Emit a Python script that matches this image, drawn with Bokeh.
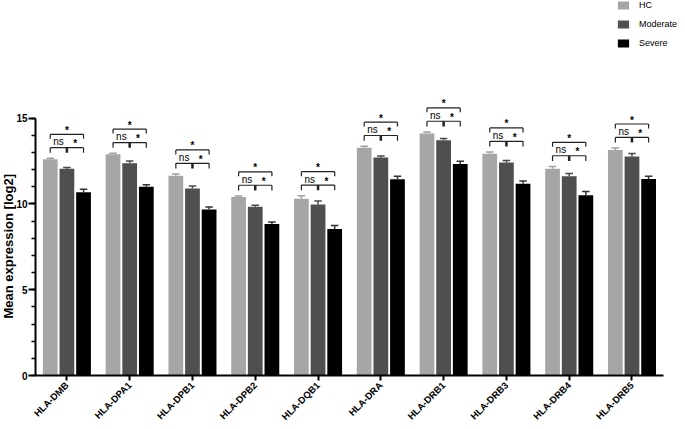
import math
from bokeh.plotting import figure
from bokeh.models import Range1d, FixedTicker, Title, Legend
from bokeh.core.properties import value
from bokeh.embed import file_html
from bokeh.resources import INLINE

genes = ["HLA-DMB", "HLA-DPA1", "HLA-DPB1", "HLA-DPB2", "HLA-DQB1",
         "HLA-DRA", "HLA-DRB1", "HLA-DRB3", "HLA-DRB4", "HLA-DRB5"]
groups = ["HC", "Moderate", "Severe"]
hc = [12.60, 12.90, 11.65, 10.41, 10.31, 13.27, 14.10, 12.93, 12.05, 13.14]
moderate = [12.05, 12.38, 10.90, 9.83, 9.97, 12.71, 13.72, 12.42, 11.61, 12.77]
severe = [10.68, 11.00, 9.68, 8.83, 8.54, 11.44, 12.33, 11.18, 10.51, 11.46]
hc_err = [0.06, 0.06, 0.10, 0.06, 0.17, 0.10, 0.10, 0.10, 0.14, 0.12]
moderate_err = [0.08, 0.12, 0.14, 0.10, 0.20, 0.09, 0.10, 0.12, 0.17, 0.17]
severe_err = [0.17, 0.12, 0.14, 0.12, 0.21, 0.17, 0.16, 0.16, 0.21, 0.16]
sig_hc_mod = ["ns"] * 10
sig_mod_sev = ["*"] * 10
sig_hc_sev = ["*"] * 10
y_ticks = [0, 5, 10, 15]

colors = ["#a6a6a6", "#4f4f4f", "#000000"]
err_colors = ["#a0a0a0", "#4a4a4a", "#333333"]
offsets = [-0.265, 0.0, 0.265]
FONT = "Liberation Sans"

p = figure(width=677, height=428, output_backend="svg", toolbar_location=None,
           x_range=Range1d(-0.5, 9.725), y_range=Range1d(0, 21.86),
           min_border_left=0, min_border_right=0, min_border_top=0,
           min_border_bottom=0)
p.outline_line_color = None
p.grid.visible = False
p.background_fill_color = "white"

idx = list(range(len(genes)))
vals = [hc, moderate, severe]
errs = [hc_err, moderate_err, severe_err]
items = []
for g, (name, v, e, off) in enumerate(zip(groups, vals, errs, offsets)):
    xs = [i + off for i in idx]
    r = p.vbar(x=xs, top=v, width=0.235, bottom=0, fill_color=colors[g],
               line_color=None)
    items.append((name, [r]))
    tops = [a + b for a, b in zip(v, e)]
    p.segment(x0=xs, y0=v, x1=xs, y1=tops, line_color=err_colors[g], line_width=1.5)
    p.segment(x0=[x - 0.06 for x in xs], y0=tops, x1=[x + 0.06 for x in xs],
              y1=tops, line_color=err_colors[g], line_width=1.5)

# significance brackets
maxtop = [max(hc[i] + hc_err[i], moderate[i] + moderate_err[i], severe[i] + severe_err[i]) for i in idx]
y_low = [m + 0.62 for m in maxtop]
y_up = [yl + 0.78 for yl in y_low]
xl = [i + offsets[0] for i in idx]
xm = [i + offsets[1] for i in idx]
xr = [i + offsets[2] for i in idx]
bc = "#222222"
p.segment(x0=xl, y0=y_low, x1=xr, y1=y_low, line_color=bc, line_width=1.2)
p.segment(x0=xl, y0=y_low, x1=xl, y1=[y - 0.3 for y in y_low], line_color=bc, line_width=1.2)
p.segment(x0=xr, y0=y_low, x1=xr, y1=[y - 0.3 for y in y_low], line_color=bc, line_width=1.2)
p.segment(x0=xm, y0=y_low, x1=xm, y1=[y - 0.3 for y in y_low], line_color=bc, line_width=2.5)
p.segment(x0=xl, y0=y_up, x1=xr, y1=y_up, line_color=bc, line_width=1.2)
p.segment(x0=xl, y0=y_up, x1=xl, y1=[y - 0.26 for y in y_up], line_color=bc, line_width=1.2)
p.segment(x0=xr, y0=y_up, x1=xr, y1=[y - 0.26 for y in y_up], line_color=bc, line_width=1.2)

p.text(x=[(a + b) / 2 for a, b in zip(xl, xm)], y=y_low, text=sig_hc_mod,
       text_font=value(FONT), text_font_size="10px", text_align="center",
       text_baseline="bottom", y_offset=-0.5, text_color="black")
p.text(x=[(a + b) / 2 for a, b in zip(xm, xr)], y=y_low, text=sig_mod_sev,
       text_font=value(FONT), text_font_size="10px", text_font_style="bold",
       text_align="center", text_baseline="bottom", y_offset=1.5, text_color="black")
p.text(x=xm, y=y_up, text=sig_hc_sev,
       text_font=value(FONT), text_font_size="10px", text_font_style="bold",
       text_align="center", text_baseline="bottom", y_offset=1.5, text_color="black")

# axes
xa = p.xaxis[0]
xa.axis_label = None
xa.axis_label_standoff = 0
xa.ticker = FixedTicker(ticks=idx)
xa.major_label_overrides = {i: g for i, g in enumerate(genes)}
xa.major_label_orientation = math.pi / 4
xa.major_label_text_font = FONT
xa.major_label_text_font_style = "bold"
xa.major_label_text_font_size = "9.5px"
xa.major_label_text_color = "black"
xa.major_label_standoff = 3
xa.major_tick_in = 0
xa.major_tick_out = 5
xa.major_tick_line_width = 2
xa.minor_tick_line_color = None
xa.axis_line_width = 2
xa.bounds = (-0.5, 9.5)

ya = p.yaxis[0]
ya.axis_label = None
ya.axis_label_standoff = 0
ya.ticker = FixedTicker(ticks=y_ticks, minor_ticks=list(range(0, 16)))
ya.major_label_text_font = FONT
ya.major_label_text_font_style = "bold"
ya.major_label_text_font_size = "10px"
ya.major_label_text_color = "black"
ya.major_tick_in = 0
ya.major_tick_out = 7
ya.minor_tick_in = 0
ya.minor_tick_out = 4
ya.major_tick_line_width = 2
ya.minor_tick_line_width = 1.5
ya.axis_line_width = 2
ya.major_label_standoff = 1
ya.bounds = (0, 15)

p.add_layout(Title(text="Mean expression [log2]", align="left", offset=57,
                   standoff=-4, text_font=FONT, text_font_style="bold",
                   text_font_size="13px", text_color="black"), "left")

legend = Legend(items=items, location="top_right", margin=0, padding=1,
                glyph_width=14, glyph_height=10, label_height=10,
                label_standoff=9, spacing=9, border_line_color=None,
                background_fill_alpha=0, label_text_font=FONT,
                label_text_font_size="9px", label_text_color="black")
p.add_layout(legend)

open("out.html", "w").write(file_html(p, INLINE))
